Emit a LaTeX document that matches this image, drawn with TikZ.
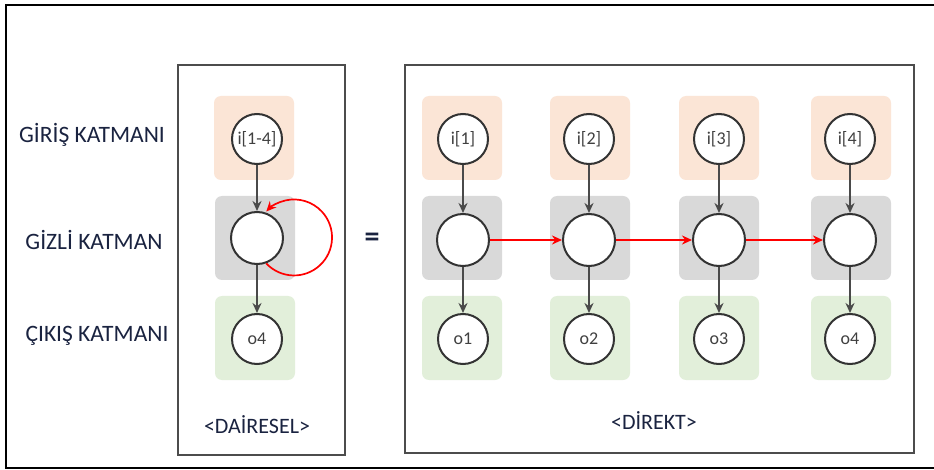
\documentclass[tikz,border=0pt]{standalone}
\usepackage{fontspec}
\setmainfont{Carlito}
\usetikzlibrary{arrows.meta}
\definecolor{inbg}{HTML}{FBE5D6}
\definecolor{hidbg}{HTML}{D9D9D9}
\definecolor{outbg}{HTML}{E2EFDA}
\definecolor{txt}{HTML}{1A2340}
\definecolor{edge}{HTML}{4A4A4A}
\tikzset{
  bgbox/.style={rounded corners=7pt, draw=none, minimum width=80pt, minimum height=84pt, inner sep=0pt},
  neuron/.style={circle, draw=black!80, line width=2pt, fill=white, minimum size=50pt, inner sep=0pt, font=\fontsize{18}{20}\selectfont, text=black!75},
  hneuron/.style={neuron, minimum size=52pt},
  layerlabel/.style={font=\fontsize{23.5}{26}\selectfont, text=txt},
  panel/.style={draw=black!70, line width=1.8pt},
  flow/.style={draw=edge, line width=2pt, -{Stealth[length=10pt,width=9pt]}},
  rec/.style={draw=red, line width=1.7pt, -{Stealth[length=10pt,width=9pt]}},
}
\begin{document}
\begin{tikzpicture}[x=1pt,y=-1pt]
\useasboundingbox (0,0) rectangle (934,470);
\fill[white] (0,0) rectangle (934,470);
% outer frame
\draw[black, line width=2pt] (6,5) rectangle (940,468);
% panels
\draw[panel] (178,65) rectangle (345,455);
\draw[panel] (405,65) rectangle (914,453);
% layer labels
\node[layerlabel] (lin) at (92,135) {GİRİŞ KATMANI};
\node[layerlabel] (lhid) at (94,240) {GİZLİ KATMAN};
\node[layerlabel] (lout) at (97,336) {ÇIKIŞ KATMANI};
\node[font=\fontsize{30}{32}\selectfont\bfseries, text=txt] (eq) at (372,240) {=};
% left panel
\node[bgbox, fill=inbg] (bi0) at (254,138) {};
\node[bgbox, fill=hidbg] (bh0) at (255,238) {};
\node[bgbox, fill=outbg] (bo0) at (255,338) {};
\node[neuron] (i0) at (257,139) {i[1-4]};
\node[hneuron] (h0) at (257,238) {};
\node[neuron] (o0) at (257,339) {o4};
\draw[flow] (i0) -- (h0);
\draw[flow] (h0) -- (o0);
\draw[rec] (h0.-70) arc[start angle=137, end angle=-137, radius=38];
\node[font=\fontsize{22}{24}\selectfont, text=txt] (dl) at (257,425) {<DAİRESEL>};
% right panel
\foreach \k/\x/\bx in {1/463/462, 2/589/590, 3/719/719, 4/850/851}{
  \node[bgbox, fill=inbg] (bi\k) at (\bx,138) {};
  \node[bgbox, fill=hidbg] (bh\k) at (\bx,238) {};
  \node[bgbox, fill=outbg] (bo\k) at (\bx,338) {};
  \node[neuron] (i\k) at (\x,139) {i[\k]};
  \node[hneuron] (h\k) at (\x,240) {};
  \node[neuron] (o\k) at (\x,339) {o\k};
  \draw[flow] (i\k) -- (h\k);
  \draw[flow] (h\k) -- (o\k);
}
\draw[rec] (h1) -- (h2);
\draw[rec] (h2) -- (h3);
\draw[rec] (h3) -- (h4);
\node[font=\fontsize{22}{24}\selectfont, text=txt] (rl) at (654,421) {<DİREKT>};
\end{tikzpicture}
\end{document}
